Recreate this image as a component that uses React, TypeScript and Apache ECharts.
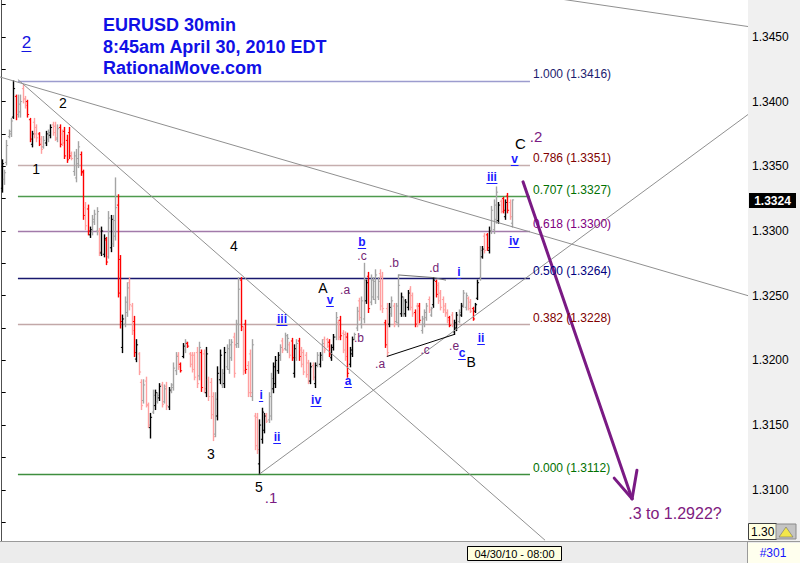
import React, { useEffect, useRef } from "react";
import * as echarts from "echarts";

const FONT = "'Liberation Sans', Arial, Helvetica, sans-serif";

// ---- 30-minute EURUSD bars ----
// tone of each bar as drawn: B = black (up), G = grey (up), R = red (down), P = pink (down)
const barTones = [
  "BGGGGBRGGP", "PRRBPPRPGB", "GBPPGRPRRR", "PGGGRRPRBG", "GGPBBRGBGG",
  "RRBGGPPRBP", "PGPPBGBGBP", "GPBGGGPRBG", "RPPPPGRPBP", "PPGBBGBGGG",
  "PGGRPRPPGP", "PBBBPGGBBB", "GPGGPRBGRP", "PPPBPBGBGP", "PRBBGPRPPR",
  "BBGGPGGBRG", "GGGPPRPBGP", "GGBGBBPPRP", "RGGGPGBRPP", "PPPRPBBGBG",
  "GPPRBBGBPR", "BGGGBPRBRPG",
].join("");

const opens = [
  1.3333, 1.3340, 1.3353, 1.3373, 1.3375, 1.3388, 1.3404, 1.3390, 1.3392, 1.3410,
  1.3402, 1.3400, 1.3386, 1.3367, 1.3384, 1.3380, 1.3375, 1.3371, 1.3365, 1.3368,
  1.3371, 1.3374, 1.3382, 1.3381, 1.3371, 1.3380, 1.3375, 1.3377, 1.3370, 1.3376,
  1.3360, 1.3346, 1.3341, 1.3352, 1.3359, 1.3345, 1.3318, 1.3317, 1.3297, 1.3299,
  1.3307, 1.3300, 1.3300, 1.3283, 1.3282, 1.3293, 1.3280, 1.3287, 1.3290, 1.3296,
  1.3320, 1.3278, 1.3210, 1.3228, 1.3237, 1.3260, 1.3242, 1.3230, 1.3201, 1.3205,
  1.3183, 1.3169, 1.3184, 1.3165, 1.3148, 1.3160, 1.3165, 1.3168, 1.3171, 1.3181,
  1.3168, 1.3180, 1.3164, 1.3176, 1.3179, 1.3192, 1.3204, 1.3197, 1.3203, 1.3208,
  1.3213, 1.3205, 1.3204, 1.3204, 1.3206, 1.3188, 1.3206, 1.3205, 1.3175, 1.3185,
  1.3183, 1.3172, 1.3143, 1.3157, 1.3185, 1.3181, 1.3182, 1.3195, 1.3193, 1.3202,
  1.3218, 1.3212, 1.3213, 1.3262, 1.3224, 1.3228, 1.3196, 1.3205, 1.3172, 1.3157,
  1.3156, 1.3120, 1.3139, 1.3146, 1.3158, 1.3154, 1.3157, 1.3178, 1.3182, 1.3192,
  1.3202, 1.3215, 1.3209, 1.3208, 1.3212, 1.3215, 1.3190, 1.3202, 1.3215, 1.3208,
  1.3206, 1.3204, 1.3198, 1.3184, 1.3196, 1.3182, 1.3197, 1.3197, 1.3202, 1.3216,
  1.3216, 1.3214, 1.3202, 1.3210, 1.3218, 1.3229, 1.3231, 1.3221, 1.3220, 1.3218,
  1.3197, 1.3205, 1.3217, 1.3225, 1.3246, 1.3228, 1.3232, 1.3246, 1.3265, 1.3245,
  1.3249, 1.3247, 1.3249, 1.3267, 1.3265, 1.3229, 1.3240, 1.3228, 1.3236, 1.3242,
  1.3230, 1.3229, 1.3236, 1.3236, 1.3236, 1.3241, 1.3255, 1.3250, 1.3237, 1.3242,
  1.3242, 1.3223, 1.3228, 1.3233, 1.3247, 1.3235, 1.3243, 1.3261, 1.3258, 1.3252,
  1.3247, 1.3242, 1.3237, 1.3233, 1.3235, 1.3222, 1.3225, 1.3230, 1.3235, 1.3243,
  1.3241, 1.3248, 1.3245, 1.3240, 1.3238, 1.3248, 1.3264, 1.3280, 1.3296, 1.3297,
  1.3285, 1.3300, 1.3301, 1.3309, 1.3308, 1.3323, 1.3325, 1.3311, 1.3327, 1.3322, 1.3306,
];

const highs = [
  1.3355, 1.3347, 1.3370, 1.3378, 1.3387, 1.3416, 1.3405, 1.3405, 1.3405, 1.3413,
  1.3404, 1.3401, 1.3387, 1.3377, 1.3387, 1.3382, 1.3376, 1.3373, 1.3373, 1.3377,
  1.3378, 1.3382, 1.3384, 1.3384, 1.3382, 1.3382, 1.3378, 1.3380, 1.3374, 1.3380,
  1.3361, 1.3361, 1.3363, 1.3369, 1.3361, 1.3347, 1.3322, 1.3320, 1.3303, 1.3312,
  1.3316, 1.3318, 1.3302, 1.3303, 1.3297, 1.3295, 1.3315, 1.3312, 1.3312, 1.3341,
  1.3328, 1.3281, 1.3235, 1.3249, 1.3260, 1.3264, 1.3244, 1.3234, 1.3216, 1.3206,
  1.3185, 1.3185, 1.3187, 1.3167, 1.3159, 1.3177, 1.3177, 1.3175, 1.3182, 1.3183,
  1.3181, 1.3183, 1.3179, 1.3182, 1.3198, 1.3206, 1.3206, 1.3198, 1.3213, 1.3216,
  1.3214, 1.3206, 1.3206, 1.3206, 1.3210, 1.3214, 1.3208, 1.3208, 1.3210, 1.3187,
  1.3186, 1.3175, 1.3175, 1.3195, 1.3208, 1.3193, 1.3210, 1.3212, 1.3216, 1.3216,
  1.3221, 1.3231, 1.3264, 1.3264, 1.3226, 1.3231, 1.3199, 1.3208, 1.3216, 1.3159,
  1.3159, 1.3154, 1.3163, 1.3159, 1.3159, 1.3175, 1.3190, 1.3198, 1.3203, 1.3206,
  1.3212, 1.3217, 1.3221, 1.3220, 1.3214, 1.3217, 1.3212, 1.3216, 1.3217, 1.3210,
  1.3208, 1.3206, 1.3200, 1.3198, 1.3198, 1.3198, 1.3206, 1.3206, 1.3216, 1.3218,
  1.3217, 1.3216, 1.3212, 1.3220, 1.3237, 1.3231, 1.3234, 1.3223, 1.3222, 1.3221,
  1.3210, 1.3218, 1.3221, 1.3241, 1.3248, 1.3249, 1.3275, 1.3262, 1.3268, 1.3266,
  1.3264, 1.3270, 1.3264, 1.3270, 1.3268, 1.3231, 1.3244, 1.3244, 1.3249, 1.3244,
  1.3244, 1.3266, 1.3252, 1.3249, 1.3247, 1.3254, 1.3257, 1.3252, 1.3239, 1.3244,
  1.3244, 1.3234, 1.3239, 1.3244, 1.3249, 1.3241, 1.3264, 1.3262, 1.3260, 1.3254,
  1.3249, 1.3244, 1.3239, 1.3234, 1.3237, 1.3231, 1.3237, 1.3239, 1.3244, 1.3254,
  1.3252, 1.3249, 1.3247, 1.3241, 1.3244, 1.3262, 1.3288, 1.3288, 1.3298, 1.3298,
  1.3303, 1.3319, 1.3324, 1.3334, 1.3322, 1.3324, 1.3326, 1.3324, 1.3329, 1.3324, 1.3324,
];

const lows = [
  1.3330, 1.3336, 1.3351, 1.3372, 1.3373, 1.3387, 1.3386, 1.3388, 1.3388, 1.3399,
  1.3395, 1.3388, 1.3369, 1.3365, 1.3372, 1.3369, 1.3366, 1.3360, 1.3364, 1.3366,
  1.3369, 1.3372, 1.3374, 1.3370, 1.3369, 1.3365, 1.3366, 1.3356, 1.3353, 1.3356,
  1.3355, 1.3343, 1.3338, 1.3349, 1.3343, 1.3309, 1.3301, 1.3297, 1.3295, 1.3297,
  1.3305, 1.3297, 1.3281, 1.3281, 1.3280, 1.3274, 1.3279, 1.3284, 1.3288, 1.3293,
  1.3249, 1.3225, 1.3206, 1.3226, 1.3234, 1.3239, 1.3220, 1.3203, 1.3199, 1.3189,
  1.3162, 1.3167, 1.3164, 1.3148, 1.3140, 1.3159, 1.3162, 1.3167, 1.3169, 1.3164,
  1.3167, 1.3162, 1.3162, 1.3175, 1.3177, 1.3189, 1.3193, 1.3191, 1.3202, 1.3206,
  1.3210, 1.3195, 1.3191, 1.3185, 1.3179, 1.3185, 1.3176, 1.3175, 1.3172, 1.3169,
  1.3155, 1.3138, 1.3141, 1.3154, 1.3182, 1.3179, 1.3179, 1.3193, 1.3190, 1.3200,
  1.3187, 1.3210, 1.3210, 1.3223, 1.3189, 1.3190, 1.3172, 1.3172, 1.3169, 1.3131,
  1.3128, 1.3112, 1.3136, 1.3144, 1.3152, 1.3152, 1.3154, 1.3175, 1.3179, 1.3190,
  1.3200, 1.3206, 1.3208, 1.3206, 1.3202, 1.3200, 1.3187, 1.3200, 1.3200, 1.3195,
  1.3189, 1.3187, 1.3182, 1.3182, 1.3185, 1.3179, 1.3195, 1.3195, 1.3200, 1.3206,
  1.3210, 1.3203, 1.3200, 1.3208, 1.3216, 1.3216, 1.3216, 1.3206, 1.3200, 1.3187,
  1.3195, 1.3203, 1.3216, 1.3223, 1.3231, 1.3225, 1.3229, 1.3244, 1.3237, 1.3243,
  1.3247, 1.3244, 1.3247, 1.3239, 1.3237, 1.3210, 1.3203, 1.3226, 1.3234, 1.3226,
  1.3229, 1.3226, 1.3234, 1.3234, 1.3234, 1.3239, 1.3239, 1.3234, 1.3226, 1.3226,
  1.3229, 1.3221, 1.3226, 1.3231, 1.3237, 1.3234, 1.3241, 1.3249, 1.3244, 1.3239,
  1.3237, 1.3234, 1.3229, 1.3226, 1.3226, 1.3220, 1.3223, 1.3229, 1.3234, 1.3241,
  1.3239, 1.3239, 1.3237, 1.3231, 1.3237, 1.3247, 1.3262, 1.3279, 1.3283, 1.3285,
  1.3283, 1.3298, 1.3298, 1.3306, 1.3306, 1.3314, 1.3314, 1.3309, 1.3314, 1.3309, 1.3303,
];

const closes = [
  1.3352, 1.3345, 1.3366, 1.3377, 1.3385, 1.3410, 1.3390, 1.3398, 1.3400, 1.3402,
  1.3397, 1.3390, 1.3371, 1.3375, 1.3375, 1.3372, 1.3367, 1.3363, 1.3370, 1.3375,
  1.3376, 1.3380, 1.3376, 1.3372, 1.3379, 1.3367, 1.3368, 1.3358, 1.3355, 1.3358,
  1.3356, 1.3358, 1.3356, 1.3365, 1.3346, 1.3312, 1.3304, 1.3300, 1.3301, 1.3309,
  1.3313, 1.3315, 1.3284, 1.3300, 1.3294, 1.3276, 1.3310, 1.3309, 1.3308, 1.3318,
  1.3252, 1.3230, 1.3232, 1.3245, 1.3256, 1.3243, 1.3223, 1.3206, 1.3212, 1.3191,
  1.3165, 1.3181, 1.3166, 1.3150, 1.3156, 1.3173, 1.3175, 1.3173, 1.3180, 1.3166,
  1.3178, 1.3165, 1.3177, 1.3181, 1.3194, 1.3203, 1.3195, 1.3192, 1.3211, 1.3214,
  1.3211, 1.3197, 1.3193, 1.3187, 1.3182, 1.3210, 1.3179, 1.3178, 1.3205, 1.3172,
  1.3158, 1.3141, 1.3170, 1.3190, 1.3204, 1.3190, 1.3206, 1.3209, 1.3212, 1.3214,
  1.3190, 1.3228, 1.3255, 1.3226, 1.3192, 1.3193, 1.3175, 1.3175, 1.3212, 1.3134,
  1.3131, 1.3150, 1.3160, 1.3157, 1.3153, 1.3172, 1.3186, 1.3195, 1.3200, 1.3204,
  1.3210, 1.3208, 1.3219, 1.3217, 1.3204, 1.3202, 1.3209, 1.3213, 1.3203, 1.3197,
  1.3191, 1.3189, 1.3184, 1.3195, 1.3187, 1.3196, 1.3204, 1.3204, 1.3213, 1.3208,
  1.3211, 1.3205, 1.3210, 1.3218, 1.3233, 1.3218, 1.3219, 1.3208, 1.3203, 1.3190,
  1.3208, 1.3216, 1.3220, 1.3238, 1.3233, 1.3246, 1.3262, 1.3260, 1.3240, 1.3262,
  1.3261, 1.3266, 1.3261, 1.3242, 1.3240, 1.3212, 1.3206, 1.3241, 1.3246, 1.3228,
  1.3242, 1.3258, 1.3249, 1.3246, 1.3245, 1.3252, 1.3241, 1.3236, 1.3228, 1.3228,
  1.3231, 1.3232, 1.3237, 1.3242, 1.3239, 1.3240, 1.3262, 1.3251, 1.3246, 1.3241,
  1.3239, 1.3236, 1.3231, 1.3227, 1.3228, 1.3229, 1.3235, 1.3237, 1.3242, 1.3252,
  1.3250, 1.3240, 1.3238, 1.3232, 1.3243, 1.3260, 1.3285, 1.3286, 1.3285, 1.3287,
  1.3300, 1.3316, 1.3320, 1.3330, 1.3320, 1.3315, 1.3316, 1.3322, 1.3316, 1.3311, 1.3324,
];

// ---- Fibonacci retracement levels ----
const fibRatios = ["1.000", "0.786", "0.707", "0.618", "0.500", "0.382", "0.000"];
const fibPrices = [1.3416, 1.3351, 1.3327, 1.33, 1.3264, 1.3228, 1.3112];
const fibStartBar = 7;
const fibEndBar = 227.7;
const fibLabelBar = 229;

// ---- analyst trend lines, [bar index, price] ----
const trendLines = [
  [[-0.73, 1.3419], [321.67, 1.325]],
  [[7, 1.3417], [234.2, 1.3061]],
  [[241.9, 1.3479], [321.67, 1.3458]],
  [[111, 1.3112], [321.67, 1.339]],
];
const triangleLower = [[166, 1.3203], [195, 1.322]];
const triangleUpper = [[171, 1.3266], [186, 1.3264], [191.5, 1.3262]];
const arrowShaft = [[224.7, 1.3338], [271.7, 1.3093]];
const arrowHeadLeft = [[264.0, 1.3109], [271.7, 1.3093]];
const arrowHeadRight = [[273.8, 1.3115], [271.7, 1.3093]];

// ---- wave labels: [text, bar index, price, kind] ----
const waveLabels: [string, number, number, string][] = [
  ["2", 26.4, 1.3399, "wave"],
  ["1", 14.8, 1.3348, "wave"],
  ["4", 100.1, 1.3288, "wave"],
  ["3", 90.2, 1.3128, "wave"],
  ["5", 110.9, 1.3102, "wave"],
  [".1", 116.1, 1.3094, "bigDot"],
  ["A", 138.5, 1.3256, "wave"],
  ["B", 202.3, 1.3199, "wave"],
  ["C", 223.6, 1.33676, "waveC"],
  [".2", 230.3, 1.3373, "bigDot"],
  ["i", 111.8, 1.3173, "roman"],
  ["ii", 118.7, 1.3141, "roman"],
  ["iii", 120.8, 1.3232, "roman"],
  ["iv", 135.5, 1.3169, "roman"],
  ["v", 141.5, 1.3247, "roman"],
  ["a", 149.3, 1.3184, "roman"],
  ["b", 155.3, 1.32915, "roman"],
  [".c", 155.3, 1.32807, "dot"],
  [".a", 148.0, 1.3254, "dot"],
  [".b", 154.0, 1.3217, "dot"],
  [".a", 163.1, 1.3197, "dot"],
  [".b", 169.1, 1.3275, "dot"],
  [".c", 182.5, 1.3208, "dot"],
  [".d", 186.4, 1.3271, "dot"],
  ["i", 197.1, 1.3268, "roman"],
  [".e", 195.0, 1.3211, "dot"],
  ["c", 198.4, 1.3206, "roman"],
  ["ii", 206.6, 1.3217, "roman"],
  ["iii", 211.3, 1.3342, "roman"],
  ["v", 221.1, 1.3356, "roman"],
  ["iv", 220.8, 1.3292, "roman"],
  [".3 to 1.2922?", 290.2, 1.3082, "target"],
];

// ---- axis ticks ----
const priceLabels = [1.31, 1.315, 1.32, 1.325, 1.33, 1.335, 1.34, 1.345];
const priceTicks = [
  1.3075, 1.31, 1.3125, 1.315, 1.3175, 1.32, 1.3225, 1.325, 1.3275, 1.33,
  1.3325, 1.335, 1.3375, 1.34, 1.3425, 1.345, 1.3475,
];

const TONE_COLORS: Record<string, string> = {
  B: "#000000",
  G: "#a4a4a4",
  R: "#ff0000",
  P: "#ffa0a0",
};
const FIB_LINE_COLORS = ["#9c9cce", "#c6aeae", "#4e9a4e", "#a27aaa", "#18186e", "#c2a8a8", "#3e8e3e"];
const FIB_TEXT_COLORS = ["#1c1c6e", "#800000", "#007000", "#800080", "#000080", "#800000", "#007000"];

const LABEL_STYLES: Record<string, { color: string; size: number; weight: string; underline: boolean }> = {
  wave: { color: "#000000", size: 14, weight: "normal", underline: false },
  waveC: { color: "#000000", size: 15, weight: "normal", underline: false },
  dot: { color: "#742474", size: 12, weight: "normal", underline: false },
  bigDot: { color: "#7a1a82", size: 15, weight: "normal", underline: false },
  roman: { color: "#1a1aff", size: 12, weight: "bold", underline: true },
  target: { color: "#7e1a80", size: 16, weight: "normal", underline: false },
};

let measureCtx: CanvasRenderingContext2D | null = null;
function textWidth(text: string, font: string): number {
  if (!measureCtx) measureCtx = document.createElement("canvas").getContext("2d");
  if (!measureCtx) return text.length * 6;
  measureCtx.font = font;
  return measureCtx.measureText(text).width;
}

function buildOption(): any {
  const ohlcData = opens.map((o, i) => [i, o, highs[i], lows[i], closes[i]]);
  const paths: { pts: number[][]; stroke: string; width: number }[] = [
    ...trendLines.map((pts) => ({ pts, stroke: "#909090", width: 1 })),
    { pts: triangleLower, stroke: "#000000", width: 1 },
    { pts: triangleUpper, stroke: "#707070", width: 1 },
  ];
  const arrows = [arrowShaft, arrowHeadLeft, arrowHeadRight];
  const last = ohlcData.length - 1;

  return {
    animation: false,
    backgroundColor: "#ffffff",
    grid: { left: 0, right: 52, top: 0, bottom: 22, containLabel: false },
    xAxis: { type: "value", min: -0.73, max: 321.67, show: false },
    yAxis: {
      type: "value",
      position: "right",
      min: 1.30604,
      max: 1.34785,
      scale: true,
      splitLine: { show: false },
      axisLine: { show: true, lineStyle: { color: "#505050", width: 1 } },
      axisTick: {
        show: true,
        inside: false,
        length: 4,
        lineStyle: { color: "#000000" },
        customValues: priceTicks,
      },
      axisLabel: {
        show: true,
        customValues: priceLabels,
        formatter: (v: number) => v.toFixed(4),
        color: "#000000",
        fontSize: 12,
        fontFamily: FONT,
        margin: 4,
      },
    },
    graphic: [
      { type: "rect", z: -100, shape: { x: 748, y: 0, width: 52, height: 541 }, style: { fill: "#f0f0f0" } },
      { type: "rect", z: 50, shape: { x: 0, y: 541, width: 800, height: 22 }, style: { fill: "#ececec" } },
      { type: "line", z: 51, shape: { x1: 0, y1: 541.5, x2: 800, y2: 541.5 }, style: { stroke: "#9a9a9a", lineWidth: 1 } },
      { type: "line", z: 51, shape: { x1: 747.5, y1: 541, x2: 747.5, y2: 563 }, style: { stroke: "#9a9a9a", lineWidth: 1 } },
      { type: "rect", z: 52, shape: { x: 467.5, y: 546.5, width: 94, height: 14 }, style: { fill: "#ffffe1", stroke: "#000000", lineWidth: 1 } },
      {
        type: "text", z: 53, x: 514.5, y: 554,
        style: { text: "04/30/10 - 08:00", font: `11px ${FONT}`, fill: "#000000", align: "center", verticalAlign: "middle", textAlign: "center", textVerticalAlign: "middle" },
      },
      { type: "rect", z: 52, shape: { x: 748, y: 543, width: 52, height: 20 }, style: { fill: "#ffffee" } },
      {
        type: "text", z: 53, x: 773, y: 553,
        style: { text: "#301", font: `12px ${FONT}`, fill: "#1414ff", align: "center", verticalAlign: "middle", textAlign: "center", textVerticalAlign: "middle" },
      },
      { type: "rect", z: 52, shape: { x: 748.5, y: 523.5, width: 28, height: 16 }, style: { fill: "#ffffe1", stroke: "#404040", lineWidth: 1 } },
      {
        type: "text", z: 53, x: 751, y: 532,
        style: { text: "1.30", font: `12px ${FONT}`, fill: "#000000", align: "left", verticalAlign: "middle", textAlign: "left", textVerticalAlign: "middle" },
      },
      { type: "rect", z: 53, shape: { x: 776, y: 524, width: 20, height: 15 }, style: { fill: "#c4c4c4", stroke: "#8a8a8a", lineWidth: 1 } },
      { type: "polygon", z: 54, shape: { points: [[779, 537], [786, 527], [793, 537]] }, style: { fill: "#f2e64a", stroke: "#707070", lineWidth: 0.6 } },
      {
        type: "text", z: 60, x: 103, y: 25,
        style: { text: "EURUSD 30min", font: `bold 18px ${FONT}`, fill: "#1010e6", align: "left", verticalAlign: "middle", textAlign: "left", textVerticalAlign: "middle" },
      },
      {
        type: "text", z: 60, x: 103, y: 46.5,
        style: { text: "8:45am April 30, 2010 EDT", font: `bold 18px ${FONT}`, fill: "#1010e6", align: "left", verticalAlign: "middle", textAlign: "left", textVerticalAlign: "middle" },
      },
      {
        type: "text", z: 60, x: 103, y: 68,
        style: { text: "RationalMove.com", font: `bold 18px ${FONT}`, fill: "#1010e6", align: "left", verticalAlign: "middle", textAlign: "left", textVerticalAlign: "middle" },
      },
      {
        type: "text", z: 60, x: 26.5, y: 42,
        style: { text: "2", font: `17px ${FONT}`, fill: "#1414e0", align: "center", verticalAlign: "middle", textAlign: "center", textVerticalAlign: "middle" },
      },
      { type: "line", z: 60, shape: { x1: 21.5, y1: 51.5, x2: 31.5, y2: 51.5 }, style: { stroke: "#1414e0", lineWidth: 1 } },
    ],
    series: [
      {
        name: "fib",
        type: "custom",
        z: 1,
        silent: true,
        data: fibPrices.map((p) => [fibStartBar, p]),
        encode: { x: 0, y: 1 },
        renderItem: (params: any, api: any) => {
          const i = params.dataIndex;
          const a = api.coord([fibStartBar, fibPrices[i]]);
          const b = api.coord([fibEndBar, fibPrices[i]]);
          const y = Math.round(a[1]) + 0.5;
          return {
            type: "line",
            shape: { x1: a[0], y1: y, x2: b[0], y2: y },
            style: { stroke: FIB_LINE_COLORS[i], lineWidth: 1.6 },
          };
        },
      },
      {
        name: "EURUSD",
        type: "custom",
        z: 3,
        silent: true,
        data: ohlcData,
        encode: { x: 0, y: [1, 2, 3, 4] },
        renderItem: (params: any, api: any) => {
          const i = api.value(0);
          const top = api.coord([i, api.value(2)]);
          const bot = api.coord([i, api.value(3)]);
          const op = api.coord([i, api.value(1)]);
          const cl = api.coord([i, api.value(4)]);
          const color = TONE_COLORS[barTones[params.dataIndex]] || "#000";
          const x = Math.round(top[0]) + 0.5;
          return {
            type: "group",
            children: [
              { type: "line", shape: { x1: x, y1: top[1] - 0.5, x2: x, y2: bot[1] + 0.5 }, style: { stroke: color, lineWidth: 1.4 } },
              { type: "line", shape: { x1: x - 1.6, y1: op[1], x2: x, y2: op[1] }, style: { stroke: color, lineWidth: 1 } },
              { type: "line", shape: { x1: x, y1: cl[1], x2: x + 1.6, y2: cl[1] }, style: { stroke: color, lineWidth: 1 } },
            ],
          };
        },
      },
      {
        name: "trendlines",
        type: "custom",
        z: 4,
        silent: true,
        clip: true,
        data: paths.map((p) => p.pts[0]),
        encode: { x: 0, y: 1 },
        renderItem: (params: any, api: any) => {
          const p = paths[params.dataIndex];
          return {
            type: "polyline",
            shape: { points: p.pts.map((q) => api.coord(q)) },
            style: { stroke: p.stroke, lineWidth: p.width, fill: "none" },
          };
        },
      },
      {
        name: "arrow",
        type: "custom",
        z: 5,
        silent: true,
        data: arrows.map((a) => a[0]),
        encode: { x: 0, y: 1 },
        renderItem: (params: any, api: any) => {
          const a = arrows[params.dataIndex];
          return {
            type: "polyline",
            shape: { points: a.map((q) => api.coord(q)) },
            style: { stroke: "#7a1a84", lineWidth: 3, fill: "none", lineCap: "round" },
          };
        },
      },
      {
        name: "fibLabels",
        type: "custom",
        z: 6,
        silent: true,
        data: fibPrices.map((p) => [fibLabelBar, p]),
        encode: { x: 0, y: 1 },
        renderItem: (params: any, api: any) => {
          const i = params.dataIndex;
          const pt = api.coord([fibLabelBar, fibPrices[i]]);
          return {
            type: "text",
            x: pt[0],
            y: pt[1] - 6.5,
            style: {
              text: `${fibRatios[i]} (${fibPrices[i].toFixed(4)})`,
              font: `12px ${FONT}`,
              fill: FIB_TEXT_COLORS[i],
              align: "left",
              verticalAlign: "middle",
              textAlign: "left",
              textVerticalAlign: "middle",
            },
          };
        },
      },
      {
        name: "waveLabels",
        type: "custom",
        z: 7,
        silent: true,
        data: waveLabels.map((l) => [l[1], l[2]]),
        encode: { x: 0, y: 1 },
        renderItem: (params: any, api: any) => {
          const lab = waveLabels[params.dataIndex];
          const st = LABEL_STYLES[lab[3]];
          const pt = api.coord([lab[1], lab[2]]);
          const font = `${st.weight} ${st.size}px ${FONT}`;
          const children: any[] = [
            {
              type: "text",
              x: pt[0],
              y: pt[1],
              style: {
                text: lab[0],
                font,
                fill: st.color,
                align: "center",
                verticalAlign: "middle",
                textAlign: "center",
                textVerticalAlign: "middle",
              },
            },
          ];
          if (st.underline) {
            const w = textWidth(lab[0], font) + 1;
            const uy = Math.round(pt[1] + st.size / 2) + 0.5;
            children.push({
              type: "line",
              shape: { x1: pt[0] - w / 2, y1: uy, x2: pt[0] + w / 2, y2: uy },
              style: { stroke: st.color, lineWidth: 1 },
            });
          }
          return { type: "group", children };
        },
      },
      {
        name: "lastPrice",
        type: "custom",
        z: 20,
        silent: true,
        clip: false,
        data: [[last, closes[last]]],
        encode: { x: 0, y: 1 },
        renderItem: (params: any, api: any) => {
          const cs = params.coordSys;
          const pt = api.coord([api.value(0), api.value(1)]);
          const x = cs.x + cs.width;
          return {
            type: "group",
            children: [
              { type: "rect", shape: { x: x + 1, y: Math.round(pt[1]) - 7, width: 47, height: 15 }, style: { fill: "#000000" } },
              {
                type: "text",
                x: x + 24.5,
                y: Math.round(pt[1]) + 0.5,
                style: {
                  text: api.value(1).toFixed(4),
                  font: `bold 12px ${FONT}`,
                  fill: "#ffffff",
                  align: "center",
                  verticalAlign: "middle",
                  textAlign: "center",
                  textVerticalAlign: "middle",
                },
              },
            ],
          };
        },
      },
    ],
  };
}

export default function App() {
  const ref = useRef<HTMLDivElement>(null);
  useEffect(() => {
    document.body.style.margin = "0";
    if (!ref.current) return;
    const chart = echarts.init(ref.current, null, { renderer: "svg" });
    chart.setOption(buildOption());
    return () => {
      chart.dispose();
    };
  }, []);
  return <div ref={ref} style={{ width: 800, height: 563 }} />;
}
